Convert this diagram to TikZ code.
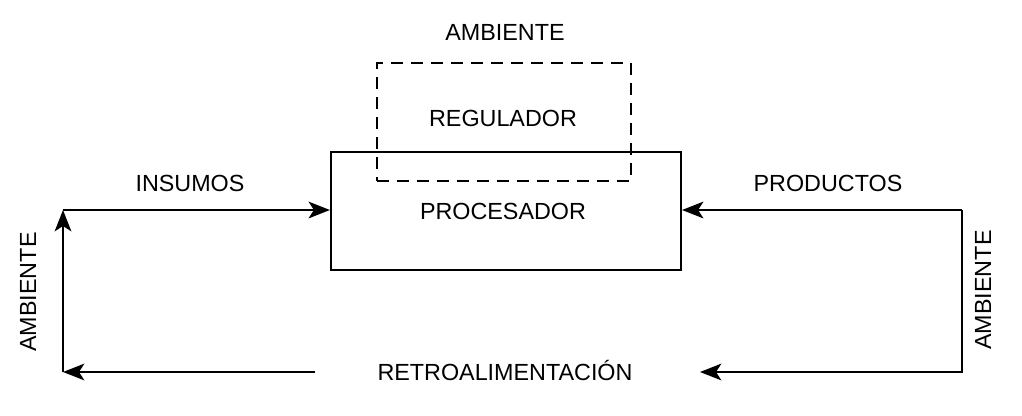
\documentclass[tikz,border=0pt]{standalone}
\usepackage{fontspec}
\setmainfont{Liberation Sans}
\usetikzlibrary{arrows.meta}
\begin{document}
\begin{tikzpicture}[x=0.75pt,y=-0.75pt,
  lbl/.style={font=\fontsize{17.5}{20}\selectfont, inner sep=0pt},
  boxline/.style={draw, line width=1.6pt},
  conn/.style={line width=1.6pt, -{Stealth[length=16pt,width=12.5pt,inset=4pt]}},
  plain/.style={line width=1.6pt}]
\useasboundingbox (0,0) rectangle (1022,415);
% boxes
\node[boxline, minimum width=262.5pt, minimum height=88.5pt, inner sep=0pt] (proc) at (506,211) {};
\node[draw, dashed, dash pattern=on 9pt off 6pt, line width=1.5pt, minimum width=190.5pt, minimum height=88.5pt, inner sep=0pt] (reg) at (504,122) {};
% texts
\node[lbl] (tamb) at (505,32) {AMBIENTE};
\node[lbl] (treg) at (503,118) {REGULADOR};
\node[lbl] (tproc) at (503,211) {PROCESADOR};
\node[lbl] (tins) at (190,183) {INSUMOS};
\node[lbl] (tprod) at (828,183) {PRODUCTOS};
\node[lbl] (tret) at (505,370) {RETROALIMENTACIÓN};
\node[lbl, rotate=90] (tambl) at (28,292) {AMBIENTE};
\node[lbl, rotate=90] (tambr) at (983,290) {AMBIENTE};
% connector points
\coordinate (L1) at (63,210);
\coordinate (L2) at (63,372);
\coordinate (L3) at (315,372);
\coordinate (R1) at (962,210);
\coordinate (R2) at (962,372);
\coordinate (R3) at (700,372);
% connectors
\draw[conn] (L3) -- (L2);
\draw[conn] (L2) -- (L1);
\draw[conn] (L1) -- (proc.west |- L1);
\draw[conn] (R1) -- (proc.east |- R1);
\draw[conn] (R1) -- (R2) -- (R3);
\end{tikzpicture}
\end{document}
